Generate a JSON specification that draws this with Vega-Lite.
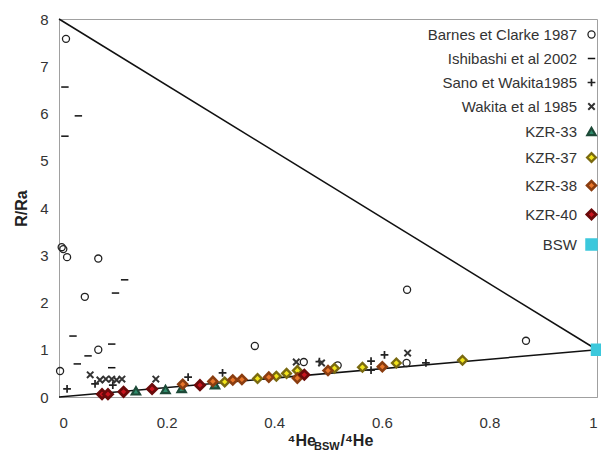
{
  "$schema": "https://vega.github.io/schema/vega-lite/v6.json",
  "width": 538,
  "height": 378,
  "autosize": "none",
  "padding": {"left": 59, "top": 19, "right": 4, "bottom": 65},
  "background": "white",
  "config": {
    "font": "Liberation Sans",
    "view": {"stroke": "#a0a0a0", "strokeWidth": 1},
    "axis": {"grid": false, "ticks": false, "domainColor": "#a0a0a0", "labelFontSize": 15, "labelColor": "#333", "titleFontSize": 16, "titleFontWeight": "bold", "titleColor": "#222", "labelFont": "Liberation Sans", "titleFont": "Liberation Sans"}
  },
  "datasets": {
    "lines": [
      {"line": "a", "x": 0, "y": 8}, {"line": "a", "x": 1, "y": 1},
      {"line": "b", "x": 0, "y": 0}, {"line": "b", "x": 1, "y": 1}
    ],
    "pts": [
      {"series": "Barnes et Clarke 1987", "x": 0.013, "y": 7.58},
      {"series": "Barnes et Clarke 1987", "x": 0.005, "y": 3.17},
      {"series": "Barnes et Clarke 1987", "x": 0.008, "y": 3.13},
      {"series": "Barnes et Clarke 1987", "x": 0.015, "y": 2.96},
      {"series": "Barnes et Clarke 1987", "x": 0.073, "y": 2.93},
      {"series": "Barnes et Clarke 1987", "x": 0.048, "y": 2.12},
      {"series": "Barnes et Clarke 1987", "x": 0.073, "y": 1.0},
      {"series": "Barnes et Clarke 1987", "x": 0.002, "y": 0.55},
      {"series": "Barnes et Clarke 1987", "x": 0.364, "y": 1.08},
      {"series": "Barnes et Clarke 1987", "x": 0.647, "y": 2.27},
      {"series": "Barnes et Clarke 1987", "x": 0.868, "y": 1.19},
      {"series": "Barnes et Clarke 1987", "x": 0.455, "y": 0.74},
      {"series": "Barnes et Clarke 1987", "x": 0.518, "y": 0.67},
      {"series": "Barnes et Clarke 1987", "x": 0.646, "y": 0.72},
      {"series": "Ishibashi et al 2002", "x": 0.011, "y": 6.56},
      {"series": "Ishibashi et al 2002", "x": 0.036, "y": 5.95},
      {"series": "Ishibashi et al 2002", "x": 0.011, "y": 5.52},
      {"series": "Ishibashi et al 2002", "x": 0.122, "y": 2.48},
      {"series": "Ishibashi et al 2002", "x": 0.105, "y": 2.2},
      {"series": "Ishibashi et al 2002", "x": 0.026, "y": 1.29},
      {"series": "Ishibashi et al 2002", "x": 0.098, "y": 1.12},
      {"series": "Ishibashi et al 2002", "x": 0.054, "y": 0.87},
      {"series": "Ishibashi et al 2002", "x": 0.034, "y": 0.7},
      {"series": "Ishibashi et al 2002", "x": 0.098, "y": 0.62},
      {"series": "Sano et Wakita1985", "x": 0.015, "y": 0.17},
      {"series": "Sano et Wakita1985", "x": 0.067, "y": 0.28},
      {"series": "Sano et Wakita1985", "x": 0.1, "y": 0.25},
      {"series": "Sano et Wakita1985", "x": 0.24, "y": 0.42},
      {"series": "Sano et Wakita1985", "x": 0.304, "y": 0.51},
      {"series": "Sano et Wakita1985", "x": 0.484, "y": 0.75},
      {"series": "Sano et Wakita1985", "x": 0.58, "y": 0.76},
      {"series": "Sano et Wakita1985", "x": 0.58, "y": 0.57},
      {"series": "Sano et Wakita1985", "x": 0.605, "y": 0.89},
      {"series": "Sano et Wakita1985", "x": 0.682, "y": 0.72},
      {"series": "Wakita et al 1985", "x": 0.058, "y": 0.47},
      {"series": "Wakita et al 1985", "x": 0.076, "y": 0.36},
      {"series": "Wakita et al 1985", "x": 0.087, "y": 0.38},
      {"series": "Wakita et al 1985", "x": 0.098, "y": 0.38},
      {"series": "Wakita et al 1985", "x": 0.107, "y": 0.36},
      {"series": "Wakita et al 1985", "x": 0.117, "y": 0.38},
      {"series": "Wakita et al 1985", "x": 0.18, "y": 0.38},
      {"series": "Wakita et al 1985", "x": 0.441, "y": 0.74},
      {"series": "Wakita et al 1985", "x": 0.488, "y": 0.72},
      {"series": "Wakita et al 1985", "x": 0.648, "y": 0.93},
      {"series": "KZR-33", "x": 0.143, "y": 0.13},
      {"series": "KZR-33", "x": 0.198, "y": 0.16},
      {"series": "KZR-33", "x": 0.228, "y": 0.18},
      {"series": "KZR-33", "x": 0.29, "y": 0.26},
      {"series": "KZR-37", "x": 0.308, "y": 0.32},
      {"series": "KZR-37", "x": 0.369, "y": 0.39},
      {"series": "KZR-37", "x": 0.404, "y": 0.44},
      {"series": "KZR-37", "x": 0.423, "y": 0.5},
      {"series": "KZR-37", "x": 0.443, "y": 0.56},
      {"series": "KZR-37", "x": 0.512, "y": 0.61},
      {"series": "KZR-37", "x": 0.564, "y": 0.63},
      {"series": "KZR-37", "x": 0.627, "y": 0.72},
      {"series": "KZR-37", "x": 0.75, "y": 0.78},
      {"series": "KZR-38", "x": 0.23, "y": 0.27},
      {"series": "KZR-38", "x": 0.286, "y": 0.33},
      {"series": "KZR-38", "x": 0.323, "y": 0.36},
      {"series": "KZR-38", "x": 0.34, "y": 0.37},
      {"series": "KZR-38", "x": 0.39, "y": 0.42},
      {"series": "KZR-38", "x": 0.443, "y": 0.4},
      {"series": "KZR-38", "x": 0.5, "y": 0.56},
      {"series": "KZR-38", "x": 0.601, "y": 0.64},
      {"series": "KZR-40", "x": 0.08, "y": 0.06},
      {"series": "KZR-40", "x": 0.091, "y": 0.06},
      {"series": "KZR-40", "x": 0.12, "y": 0.11},
      {"series": "KZR-40", "x": 0.173, "y": 0.17},
      {"series": "KZR-40", "x": 0.262, "y": 0.25},
      {"series": "KZR-40", "x": 0.456, "y": 0.47},
      {"series": "BSW", "x": 1.0, "y": 1.0}
    ]
  },
  "encoding": {
    "y": {"field": "y", "type": "quantitative", "scale": {"domain": [0, 8], "nice": false},
      "axis": {"title": "R/Ra", "values": [0,1,2,3,4,5,6,7,8], "labelPadding": 11, "titlePadding": 10}},
    "shape": {"field": "series", "type": "nominal",
      "scale": {"domain": ["Barnes et Clarke 1987", "Ishibashi et al 2002", "Sano et Wakita1985", "Wakita et al 1985", "KZR-33", "KZR-37", "KZR-38", "KZR-40", "BSW"],
        "range": ["circle", "M-1,0L1,0", "M-1,0L1,0M0,-1L0,1", "M-0.8,-0.8L0.8,0.8M-0.8,0.8L0.8,-0.8", "triangle-up", "diamond", "diamond", "diamond", "square"]},
      "legend": {"title": null, "orient": "none", "legendX": 525, "legendY": 8, "labelAlign": "right", "labelOffset": -22, "labelFontSize": 15, "labelColor": "#333", "rowPadding": 8, "labelFont": "Liberation Sans"}},
    "fill": {"field": "series", "type": "nominal",
      "scale": {"domain": ["Barnes et Clarke 1987", "Ishibashi et al 2002", "Sano et Wakita1985", "Wakita et al 1985", "KZR-33", "KZR-37", "KZR-38", "KZR-40", "BSW"],
        "range": ["transparent", "transparent", "transparent", "transparent", "#2e8b6b", "#f2e51b", "#e8762b", "#c8141e", "#3cc8dc"]}},
    "stroke": {"field": "series", "type": "nominal",
      "scale": {"domain": ["Barnes et Clarke 1987", "Ishibashi et al 2002", "Sano et Wakita1985", "Wakita et al 1985", "KZR-33", "KZR-37", "KZR-38", "KZR-40", "BSW"],
        "range": ["#222", "#111", "#222", "#333", "#1d4a38", "#7a6a10", "#8a3d10", "#6a0a0a", "#3cc8dc"]}},
    "size": {"field": "series", "type": "nominal",
      "scale": {"domain": ["Barnes et Clarke 1987", "Ishibashi et al 2002", "Sano et Wakita1985", "Wakita et al 1985", "KZR-33", "KZR-37", "KZR-38", "KZR-40", "BSW"],
        "range": [50, 90, 64, 64, 66, 76, 76, 76, 72]}},
    "strokeWidth": {"field": "series", "type": "nominal",
      "scale": {"domain": ["Barnes et Clarke 1987", "Ishibashi et al 2002", "Sano et Wakita1985", "Wakita et al 1985", "KZR-33", "KZR-37", "KZR-38", "KZR-40", "BSW"],
        "range": [1.3, 3, 1.1, 1.1, 0.8, 0.8, 0.8, 0.8, 0.5]}}
  },
  "layer": [
    {
      "data": {"name": "lines"},
      "mark": {"type": "line", "color": "#111", "strokeWidth": 1.5, "clip": false},
      "encoding": {
        "x": {"field": "x", "type": "quantitative", "scale": {"domain": [0, 1], "nice": false},
          "axis": {"orient": "bottom", "title": "⁴He", "labels": false, "domain": false, "ticks": false, "titleX": 228, "titleY": 48, "titleAlign": "left", "titleBaseline": "alphabetic"}},
        "detail": {"field": "line"},
        "shape": null, "fill": null, "stroke": null, "size": null, "strokeWidth": null
      }
    },
    {
      "data": {"name": "pts"},
      "transform": [{"filter": "datum.series !== 'BSW'"}],
      "mark": {"type": "point", "opacity": 1, "clip": false},
      "encoding": {
        "x": {"field": "x", "type": "quantitative", "scale": {"domain": [0, 1], "nice": false},
          "axis": {"orient": "bottom", "title": "BSW", "values": [0, 0.2, 0.4, 0.6, 0.8, 1], "format": "~g", "labelPadding": 18, "titleFontSize": 11, "titleX": 254.5, "titleY": 52, "titleAlign": "left", "titleBaseline": "alphabetic"}}
      }
    },
    {
      "data": {"name": "pts"},
      "transform": [{"filter": "datum.series === 'BSW'"}],
      "mark": {"type": "point", "opacity": 1, "clip": false},
      "encoding": {
        "x": {"field": "x", "type": "quantitative", "scale": {"domain": [0, 1], "nice": false},
          "axis": {"orient": "bottom", "title": "/⁴He", "labels": false, "domain": false, "ticks": false, "titleX": 281, "titleY": 48, "titleAlign": "left", "titleBaseline": "alphabetic"}}
      }
    }
  ],
  "resolve": {"axis": {"x": "independent"}}
}
